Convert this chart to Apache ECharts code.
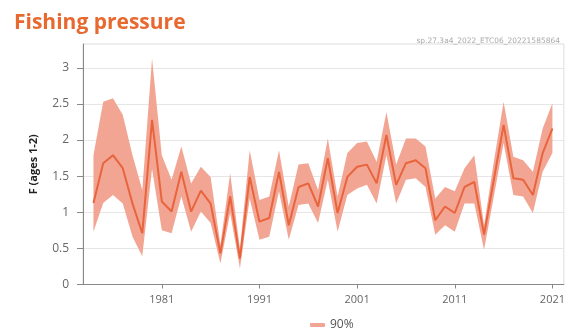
<!DOCTYPE html>
<html><head><meta charset="utf-8">
<script src="https://cdn.jsdelivr.net/npm/echarts@6/dist/echarts.min.js"></script>
<style>html,body{margin:0;padding:0;background:#fff}#c{width:568px;height:329px}</style>
</head><body><div id="c"></div>
<script>
const years = [1974,1975,1976,1977,1978,1979,1980,1981,1982,1983,1984,1985,1986,1987,1988,1989,1990,1991,1992,1993,1994,1995,1996,1997,1998,1999,2000,2001,2002,2003,2004,2005,2006,2007,2008,2009,2010,2011,2012,2013,2014,2015,2016,2017,2018,2019,2020,2021];
const fMedian = [1.13,1.68,1.79,1.61,1.12,0.71,2.28,1.15,1.01,1.56,1.01,1.30,1.12,0.43,1.22,0.36,1.49,0.87,0.92,1.56,0.82,1.35,1.40,1.08,1.75,0.99,1.49,1.63,1.66,1.40,2.07,1.38,1.68,1.72,1.61,0.89,1.08,0.99,1.35,1.42,0.69,1.45,2.21,1.47,1.45,1.24,1.82,2.16];
const fUpper  = [1.79,2.53,2.58,2.35,1.79,1.31,3.13,1.79,1.45,1.91,1.40,1.63,1.49,0.55,1.54,0.50,1.86,1.17,1.22,1.86,1.08,1.66,1.68,1.31,2.02,1.22,1.82,1.96,1.98,1.70,2.39,1.66,2.02,2.02,1.91,1.19,1.35,1.29,1.61,1.79,0.82,1.70,2.53,1.77,1.72,1.56,2.16,2.51];
const fLower  = [0.73,1.13,1.24,1.12,0.66,0.39,1.60,0.75,0.71,1.22,0.73,1.01,0.85,0.29,0.99,0.22,1.19,0.62,0.66,1.29,0.62,1.10,1.12,0.85,1.45,0.73,1.24,1.33,1.38,1.12,1.79,1.12,1.45,1.47,1.35,0.69,0.82,0.73,1.12,1.12,0.48,1.22,1.96,1.24,1.22,0.99,1.56,1.82];
const yTicks = [0,0.5,1,1.5,2,2.5,3];
const xTickYears = [1981,1991,2001,2011,2021];

const bandData = years.map((y,i)=>[y,fLower[i],fUpper[i]]);
const medData = years.map((y,i)=>[y,fMedian[i]]);
const BAND = '#F3A594', LINE = '#E8643C';

const chart = echarts.init(document.getElementById('c'));
chart.setOption({
  animation:false,
  title:[
    {text:'Fishing pressure',left:9,top:8,textStyle:{fontFamily:'Open Sans',fontWeight:'bold',fontSize:21,color:'#E8692F'}},
    {text:'sp.27.3a4_2022_ETC06_20221585864',right:3,top:32,textStyle:{fontFamily:'DejaVu Sans',fontWeight:'normal',fontSize:7.5,color:'#aaa'}}
  ],
  grid:{left:83,right:1,top:44,bottom:44.5,show:true,borderColor:'#ddd',borderWidth:1},
  legend:{top:314,left:305,data:['90%'],icon:'roundRect',itemWidth:15,itemHeight:4,itemGap:6,
    textStyle:{fontFamily:'Open Sans',fontSize:12,color:'#555'}},
  xAxis:{type:'value',min:1972.93,max:2022.17,
    splitLine:{show:false},
    axisLine:{show:true,lineStyle:{color:'#888'}},
    axisTick:{show:true,customValues:xTickYears,length:4,lineStyle:{color:'#888'}},
    axisLabel:{customValues:xTickYears,color:'#666',fontFamily:'Open Sans',fontSize:11,margin:10,formatter:v=>String(v)}
  },
  yAxis:{type:'value',min:0,max:3.33,interval:0.5,
    name:'F (ages 1-2)',nameLocation:'middle',nameGap:44,
    nameTextStyle:{fontFamily:'Open Sans',fontWeight:'bold',fontSize:11,color:'#222'},
    axisLine:{show:true,lineStyle:{color:'#888'}},
    axisTick:{show:true,length:6,lineStyle:{color:'#888'},customValues:yTicks},
    axisLabel:{customValues:yTicks,color:'#666',fontFamily:'Open Sans',fontSize:12,margin:14,formatter:v=>String(v)},
    splitLine:{show:true,lineStyle:{color:'#e6e6e6',width:1}}
  },
  series:[
    {name:'90%',type:'custom',data:bandData,encode:{x:0,y:[1,2]},silent:true,z:1,
      itemStyle:{color:BAND},
      renderItem:function(params,api){
        if(params.dataIndex!==0) return null;
        const up=[], lo=[];
        for(let i=0;i<bandData.length;i++){
          up.push(api.coord([bandData[i][0],bandData[i][2]]));
          lo.push(api.coord([bandData[i][0],bandData[i][1]]));
        }
        return {type:'polygon',shape:{points:up.concat(lo.reverse())},style:{fill:BAND}};
      }},
    {name:'F',type:'line',data:medData,symbol:'none',z:2,lineStyle:{color:LINE,width:2},itemStyle:{color:LINE}}
  ]
});
</script></body></html>
